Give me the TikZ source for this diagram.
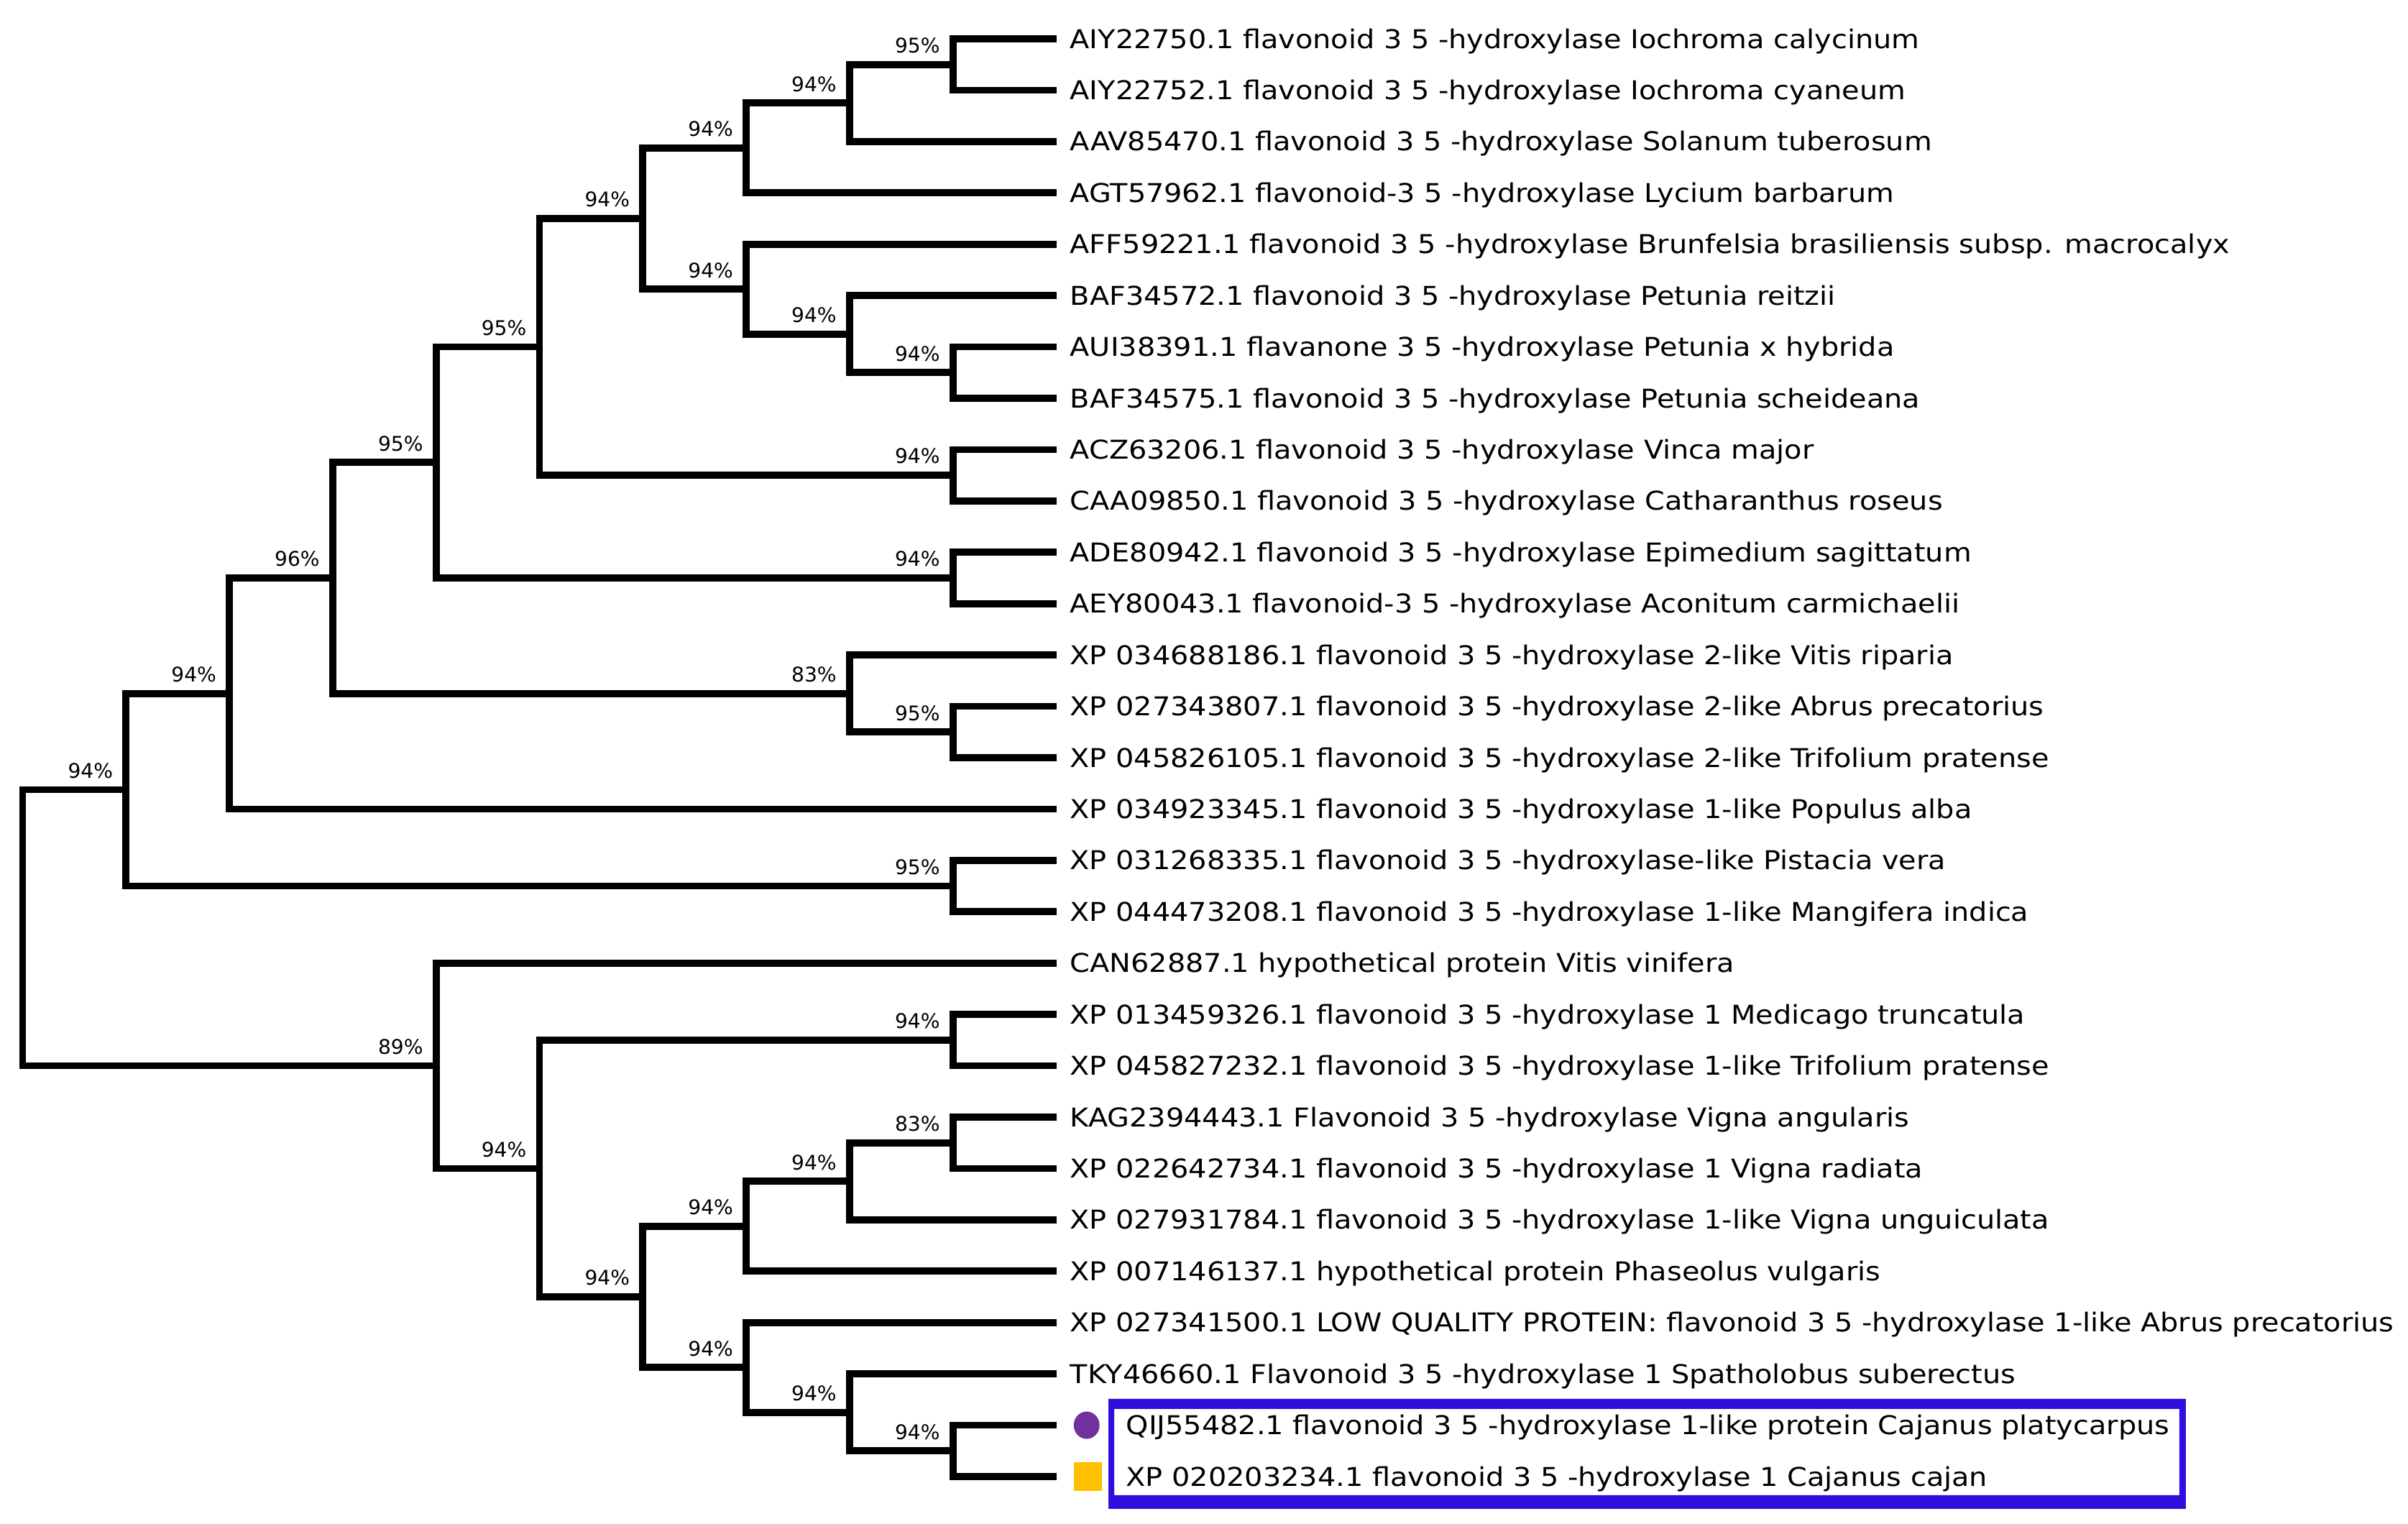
\documentclass[tikz,border=0pt]{standalone}
\usepackage{fontspec}
\setmainfont{DejaVu Sans}
\newfontfamily\leaffont[FakeStretch=1.105]{DejaVu Sans}
\newfontfamily\bootfont{DejaVu Sans}
\usepackage{tikz}
\usetikzlibrary{positioning,calc,shapes.geometric}
\definecolor{boxblue}{RGB}{51,12,222}
\definecolor{markpurple}{RGB}{112,48,160}
\definecolor{markorange}{RGB}{255,192,0}
\newcommand{\clade}[3]{\coordinate (#1) at (#2); \node[boot, above left=0.155cm and 0.175cm of #1] (#1s) {#3\%};}

\begin{document}
\begin{tikzpicture}[x=1.438cm, y=-0.7143cm,
  branch/.style={line width=0.097cm},
  leaf/.style={anchor=west, inner sep=0pt, text height=7.47pt, text depth=0pt,
    font=\leaffont\fontsize{10.25pt}{12pt}\selectfont},
  boot/.style={inner sep=0pt, text depth=0pt, font=\bootfont\fontsize{8pt}{9.6pt}\selectfont}]
\useasboundingbox (-0.315cm,0.54cm) rectangle (33.185cm,-20.66cm);

\coordinate (root) at (0,17.3125);
\clade{n1}{1,14.625}{94}
\clade{n2}{2,12.75}{94}
\clade{n3}{3,10.5}{96}
\clade{n4}{4,8.25}{95}
\clade{n5}{5,6}{95}
\clade{n6}{6,3.5}{94}
\clade{n7}{7,2.125}{94}
\clade{n8}{8,1.25}{94}
\clade{n9}{9,0.5}{95}
\clade{n10}{7,4.875}{94}
\clade{n11}{8,5.75}{94}
\clade{n12}{9,6.5}{94}
\clade{n13}{9,8.5}{94}
\clade{n14}{9,10.5}{94}
\clade{n15}{8,12.75}{83}
\clade{n16}{9,13.5}{95}
\clade{n17}{9,16.5}{95}
\clade{n18}{4,20}{89}
\clade{n19}{5,22}{94}
\clade{n20}{9,19.5}{94}
\clade{n21}{6,24.5}{94}
\clade{n22}{7,23.125}{94}
\clade{n23}{8,22.25}{94}
\clade{n24}{9,21.5}{83}
\clade{n25}{7,25.875}{94}
\clade{n26}{8,26.75}{94}
\clade{n27}{9,27.5}{94}

\foreach \i in {0,...,28}
  \coordinate (t\i) at (10,\i);

\foreach \p/\c in {root/n1, root/n18, n1/n2, n1/n17, n2/n3, n3/n4, n3/n15,
    n4/n5, n4/n14, n5/n6, n5/n13, n6/n7, n6/n10, n7/n8, n8/n9, n10/n11,
    n11/n12, n15/n16, n18/n19, n19/n20, n19/n21, n21/n22, n21/n25,
    n22/n23, n23/n24, n25/n26, n26/n27,
    n9/t0, n9/t1, n8/t2, n7/t3, n10/t4, n11/t5, n12/t6, n12/t7, n13/t8,
    n13/t9, n14/t10, n14/t11, n15/t12, n16/t13, n16/t14, n2/t15, n17/t16,
    n17/t17, n18/t18, n20/t19, n20/t20, n24/t21, n24/t22, n23/t23, n22/t24,
    n25/t25, n26/t26, n27/t27, n27/t28}
  \draw[branch] (\p) |- (\c);

\foreach \i/\txt in {
  0/{AIY22750.1 flavonoid 3 5 -hydroxylase Iochroma calycinum},
  1/{AIY22752.1 flavonoid 3 5 -hydroxylase Iochroma cyaneum},
  2/{AAV85470.1 flavonoid 3 5 -hydroxylase Solanum tuberosum},
  3/{AGT57962.1 flavonoid-3 5 -hydroxylase Lycium barbarum},
  4/{AFF59221.1 flavonoid 3 5 -hydroxylase Brunfelsia brasiliensis subsp. macrocalyx},
  5/{BAF34572.1 flavonoid 3 5 -hydroxylase Petunia reitzii},
  6/{AUI38391.1 flavanone 3 5 -hydroxylase Petunia x hybrida},
  7/{BAF34575.1 flavonoid 3 5 -hydroxylase Petunia scheideana},
  8/{ACZ63206.1 flavonoid 3 5 -hydroxylase Vinca major},
  9/{CAA09850.1 flavonoid 3 5 -hydroxylase Catharanthus roseus},
  10/{ADE80942.1 flavonoid 3 5 -hydroxylase Epimedium sagittatum},
  11/{AEY80043.1 flavonoid-3 5 -hydroxylase Aconitum carmichaelii},
  12/{XP 034688186.1 flavonoid 3 5 -hydroxylase 2-like Vitis riparia},
  13/{XP 027343807.1 flavonoid 3 5 -hydroxylase 2-like Abrus precatorius},
  14/{XP 045826105.1 flavonoid 3 5 -hydroxylase 2-like Trifolium pratense},
  15/{XP 034923345.1 flavonoid 3 5 -hydroxylase 1-like Populus alba},
  16/{XP 031268335.1 flavonoid 3 5 -hydroxylase-like Pistacia vera},
  17/{XP 044473208.1 flavonoid 3 5 -hydroxylase 1-like Mangifera indica},
  18/{CAN62887.1 hypothetical protein Vitis vinifera},
  19/{XP 013459326.1 flavonoid 3 5 -hydroxylase 1 Medicago truncatula},
  20/{XP 045827232.1 flavonoid 3 5 -hydroxylase 1-like Trifolium pratense},
  21/{KAG2394443.1 Flavonoid 3 5 -hydroxylase Vigna angularis},
  22/{XP 022642734.1 flavonoid 3 5 -hydroxylase 1 Vigna radiata},
  23/{XP 027931784.1 flavonoid 3 5 -hydroxylase 1-like Vigna unguiculata},
  24/{XP 007146137.1 hypothetical protein Phaseolus vulgaris},
  25/{XP 027341500.1 LOW QUALITY PROTEIN: flavonoid 3 5 -hydroxylase 1-like Abrus precatorius},
  26/{TKY46660.1 Flavonoid 3 5 -hydroxylase 1 Spatholobus suberectus}}
  \node[leaf, right=0.185cm of t\i] (l\i) {\txt};

% the two Cajanus sequences
\node[ellipse, fill=markpurple, inner sep=0pt, minimum width=0.36cm, minimum height=0.38cm, right=0.235cm of t27] (m27) {};
\node[rectangle, fill=markorange, inner sep=0pt, minimum size=0.395cm, right=0.235cm of t28] (m28) {};
\node[leaf, right=0.965cm of t27] (l27) {QIJ55482.1 flavonoid 3 5 -hydroxylase 1-like protein Cajanus platycarpus};
\node[leaf, right=0.965cm of t28] (l28) {XP 020203234.1 flavonoid 3 5 -hydroxylase 1 Cajanus cajan};
\fill[boxblue, even odd rule]
  ($(l27.north west)+(-0.24cm,0.23cm)$) rectangle ($(l27.east |- l28.south)+(0.22cm,-0.31cm)$)
  ($(l27.north west)+(-0.16cm,0.09cm)$) rectangle ($(l27.east |- l28.south)+(0.13cm,-0.12cm)$);
\end{tikzpicture}
\end{document}
